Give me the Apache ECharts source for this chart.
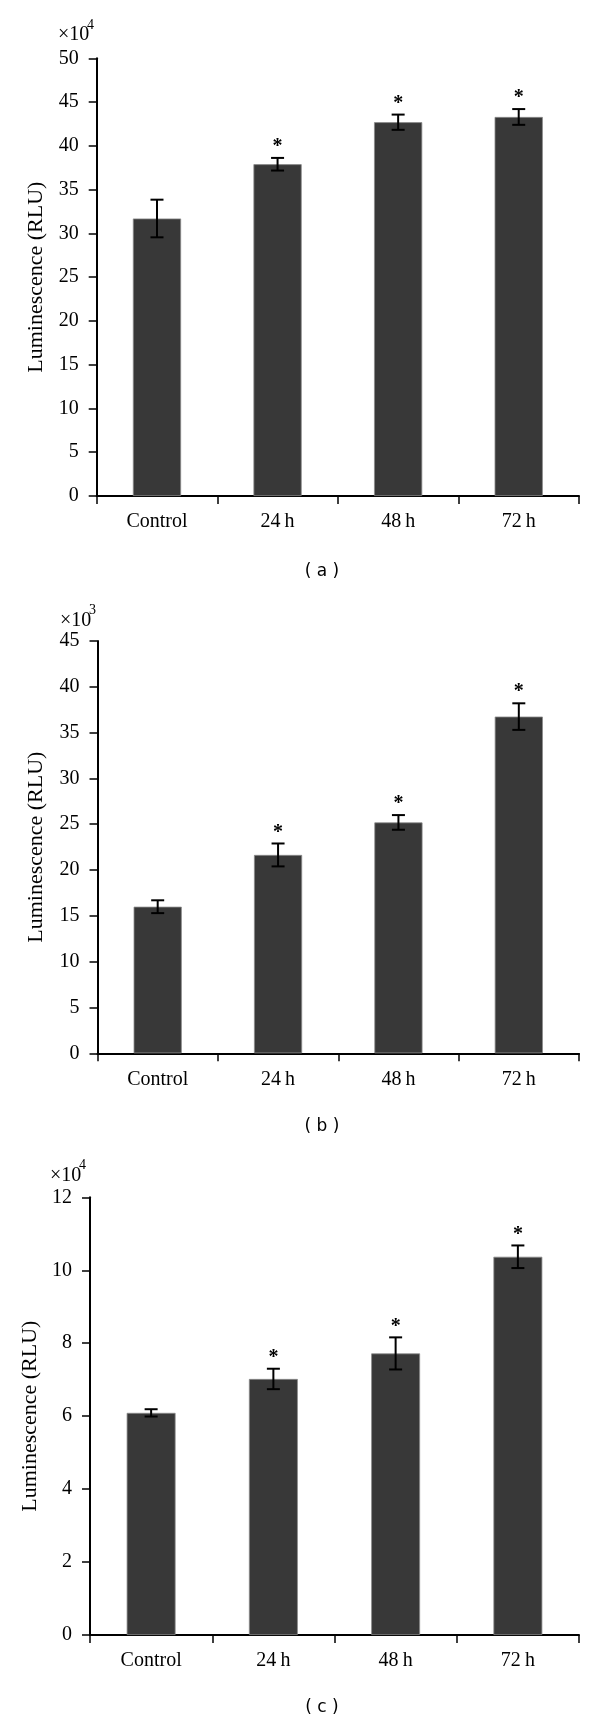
<!DOCTYPE html>
<html>
<head>
<meta charset="utf-8">
<script src="https://cdn.jsdelivr.net/npm/echarts@6/dist/echarts.min.js"></script>
<style>
html,body{margin:0;padding:0;background:#fff;}
#c{width:600px;height:1722px;}
</style>
</head>
<body>
<div id="c"></div>
<script>
// ---- data ----
var categories = ['Control', '24h', '48h', '72h'];
var catLabels = ['Control', '24\u2009h', '48\u2009h', '72\u2009h'];

// panel (a): ×10^4
var aValues = [31.7, 37.9, 42.7, 43.3];
var aErrors = [2.15, 0.72, 0.87, 0.9];
var aStars  = [0, 1, 1, 1];
var aTicks  = {min: 0, max: 50, interval: 5};

// panel (b): ×10^3
var bValues = [16.0, 21.65, 25.2, 36.75];
var bErrors = [0.7, 1.25, 0.8, 1.45];
var bStars  = [0, 1, 1, 1];
var bTicks  = {min: 0, max: 45, interval: 5};

// panel (c): ×10^4
var cValues = [6.09, 7.02, 7.72, 10.37];
var cErrors = [0.1, 0.28, 0.44, 0.31];
var cStars  = [0, 1, 1, 1];
var cTicks  = {min: 0, max: 12, interval: 2};

var panelLabels = ['( a )', '( b )', '( c )'];
var exponents = ['4', '3', '4'];
var yTitle = 'Luminescence (RLU)';

// ---- chart ----
var SERIF = '"Liberation Serif", "DejaVu Serif", serif';
var chart = echarts.init(document.getElementById('c'), null, {renderer: 'canvas'});

var grids = [
  {left: 96.7, top: 58.3, width: 482.3, height: 437.7},
  {left: 97.5, top: 641, width: 481.5, height: 412.3},
  {left: 90, top: 1197.3, width: 489, height: 437.7}
];
var nameGaps = [49, 50, 42];
var panels = [
  {v: aValues, e: aErrors, s: aStars, t: aTicks},
  {v: bValues, e: bErrors, s: bStars, t: bTicks},
  {v: cValues, e: cErrors, s: cStars, t: cTicks}
];

var xAxes = [], yAxes = [], series = [];
panels.forEach(function (p, i) {
  xAxes.push({
    type: 'category', gridIndex: i, data: catLabels,
    axisLine: {lineStyle: {color: '#000', width: 2}},
    axisTick: {show: true, length: 8, lineStyle: {color: '#000', width: 1.5}},
    axisLabel: {color: '#000', fontFamily: SERIF, fontSize: 20, margin: 16}
  });
  yAxes.push({
    type: 'value', gridIndex: i, min: p.t.min, max: p.t.max, interval: p.t.interval,
    name: yTitle, nameLocation: 'middle', nameGap: nameGaps[i],
    nameTextStyle: {color: '#000', fontFamily: SERIF, fontSize: 22},
    splitLine: {show: false},
    axisLine: {show: true, lineStyle: {color: '#000', width: 2}},
    axisTick: {show: true, length: 8, lineStyle: {color: '#000', width: 1.5}},
    axisLabel: {color: '#000', fontFamily: SERIF, fontSize: 20, margin: 18}
  });
  series.push({
    type: 'bar', xAxisIndex: i, yAxisIndex: i, data: p.v, barWidth: '40%', z: 2,
    itemStyle: {color: '#383838', borderColor: '#8a8a8a', borderWidth: 0.8},
    silent: true, animation: false
  });
  var ed = p.v.map(function (v, k) { return [k, v, p.e[k], p.s[k]]; });
  series.push({
    type: 'custom', xAxisIndex: i, yAxisIndex: i, data: ed, animation: false, silent: true,
    z: 10, encode: {x: 0, y: 1},
    renderItem: function (params, api) {
      var x = api.value(0), v = api.value(1), e = api.value(2), s = api.value(3);
      var top = api.coord([x, v + e]);
      var bot = api.coord([x, v - e]);
      var hw = 6.5;
      var st = {stroke: '#000', lineWidth: 2};
      var children = [
        {type: 'line', shape: {x1: top[0], y1: top[1], x2: bot[0], y2: bot[1]}, style: st},
        {type: 'line', shape: {x1: top[0] - hw, y1: top[1], x2: top[0] + hw, y2: top[1]}, style: st},
        {type: 'line', shape: {x1: bot[0] - hw, y1: bot[1], x2: bot[0] + hw, y2: bot[1]}, style: st}
      ];
      if (s) {
        children.push({type: 'text', style: {
          text: '*', x: top[0], y: top[1] - 1, align: 'center', verticalAlign: 'bottom',
          font: 'bold 20px ' + SERIF, fill: '#000'
        }});
      }
      return {type: 'group', children: children};
    }
  });
});

var expPos = [
  {x: 58, y: 36},
  {x: 60, y: 621.7},
  {x: 50, y: 1176.7}
];
var labelY = [572, 1127, 1708];
var graphic = [];
expPos.forEach(function (p, i) {
  graphic.push({type: 'text', left: p.x, top: p.y - 11, style: {
    text: '\u00d710', font: '20px ' + SERIF, fill: '#000'
  }});
  graphic.push({type: 'text', left: p.x + 29, top: p.y - 18, style: {
    text: exponents[i], font: '14px ' + SERIF, fill: '#000'
  }});
  graphic.push({type: 'text', x: 322, y: labelY[i], style: {
    text: panelLabels[i], font: '17px "DejaVu Sans", sans-serif', fill: '#000',
    align: 'center', verticalAlign: 'middle'
  }});
});

chart.setOption({
  animation: false,
  backgroundColor: '#fff',
  grid: grids.map(function (g) { return Object.assign({containLabel: false}, g); }),
  xAxis: xAxes,
  yAxis: yAxes,
  series: series,
  graphic: graphic
});
</script>
</body>
</html>
